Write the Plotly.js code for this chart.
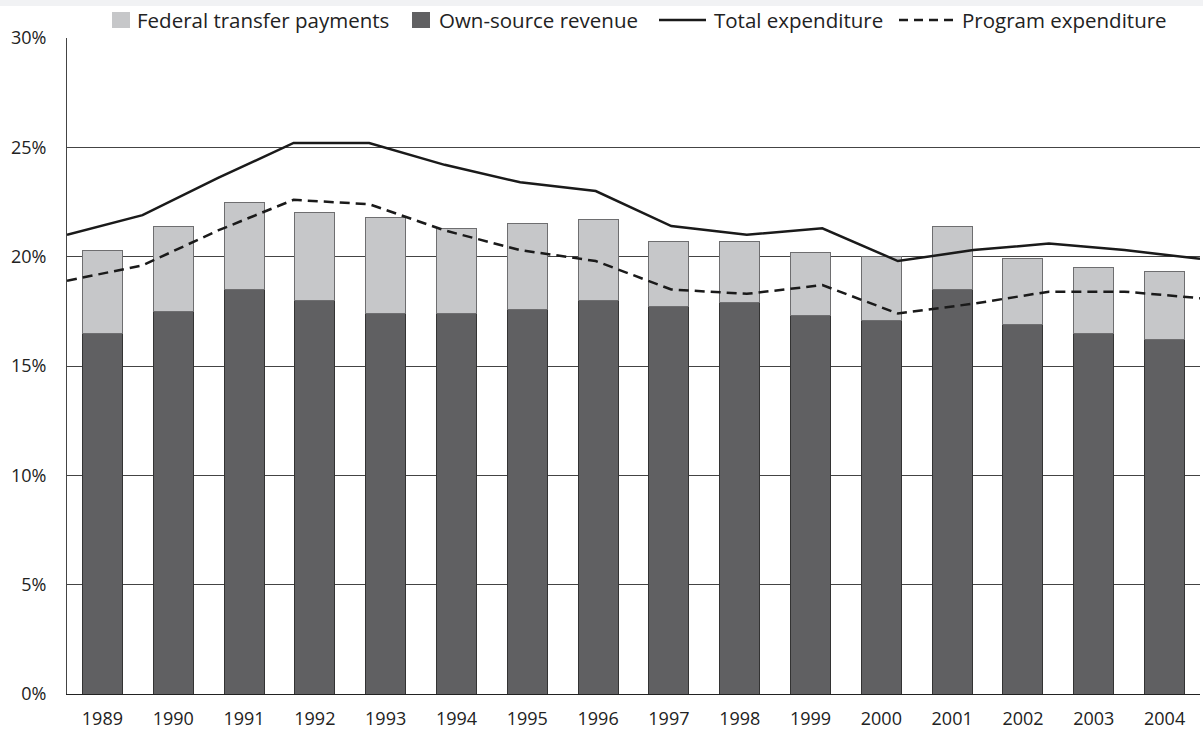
<!DOCTYPE html>
<html>
<head>
<meta charset="utf-8">
<script src="https://cdn.plot.ly/plotly-3.0.1.min.js"></script>
<style>html,body{margin:0;padding:0;background:#fff;}#chart{width:1203px;height:731px;}</style>
</head>
<body>
<div id="chart"></div>
<script>
const years = ["1989","1990","1991","1992","1993","1994","1995","1996","1997","1998","1999","2000","2001","2002","2003","2004"];
const yearNums = [1989,1990,1991,1992,1993,1994,1995,1996,1997,1998,1999,2000,2001,2002,2003,2004];
const ownSource = [16.5,17.5,18.5,18.0,17.4,17.4,17.6,18.0,17.7,17.9,17.3,17.1,18.5,16.9,16.5,16.2];
const totalRevenue = [20.3,21.4,22.5,22.0,21.8,21.3,21.5,21.7,20.7,20.7,20.2,20.0,21.4,19.9,19.5,19.3];
const federalTransfers = totalRevenue.map((t,i)=>+(t-ownSource[i]).toFixed(2));
const totalExpenditure = [21.0,21.9,23.6,25.2,25.2,24.2,23.4,23.0,21.4,21.0,21.3,19.8,20.3,20.6,20.3,19.9];
const programExpenditure = [18.9,19.6,21.2,22.6,22.4,21.2,20.3,19.8,18.5,18.3,18.7,17.4,17.85,18.4,18.4,18.1];
const yTicks = [0,5,10,15,20,25,30];
const yTickLabels = ["0%","5%","10%","15%","20%","25%","30%"];
const seriesNames = ["Federal transfer payments","Own-source revenue","Total expenditure","Program expenditure"];

const FED_COLOR = '#c6c7c9', OWN_COLOR = '#606062', LINE_COLOR = '#1a1a1a';

const traces = [
  {type:'bar', name:seriesNames[1], x:years, y:ownSource, showlegend:false,
   marker:{color:OWN_COLOR, line:{color:'#333333', width:1}}, hoverinfo:'y'},
  {type:'bar', name:seriesNames[0], x:years, y:federalTransfers, showlegend:false,
   marker:{color:FED_COLOR, line:{color:'#6e6e70', width:1}}, hoverinfo:'y'},
  {type:'scatter', mode:'lines', name:seriesNames[2], x:yearNums, y:totalExpenditure, xaxis:'x2', showlegend:false,
   line:{color:LINE_COLOR, width:2.5}, cliponaxis:false},
  {type:'scatter', mode:'lines', name:seriesNames[3], x:yearNums, y:programExpenditure, xaxis:'x2', showlegend:false,
   line:{color:LINE_COLOR, width:2.5, dash:'10px,6px'}, cliponaxis:false}
];

// Custom legend drawn in paper coordinates (plot area: x 67..1200 px, y 38..694 px)
const M = {l:67, r:3, t:38, b:37};
const PW = 1203 - M.l - M.r, PH = 731 - M.t - M.b;
const px = x => (x - M.l) / PW;
const py = y => 1 + (M.t - y) / PH;
const legY = 20;
const shapes = [
  {type:'rect', xref:'paper', yref:'paper', x0:px(0), x1:px(1203), y0:py(6), y1:py(0),
   fillcolor:'#f1f2f4', line:{width:0}, layer:'below'},
  {type:'rect', xref:'paper', yref:'paper', x0:px(112), x1:px(130), y0:py(28), y1:py(12),
   fillcolor:FED_COLOR, line:{width:0}},
  {type:'rect', xref:'paper', yref:'paper', x0:px(412), x1:px(430), y0:py(28), y1:py(12),
   fillcolor:OWN_COLOR, line:{width:0}},
  {type:'line', xref:'paper', yref:'paper', x0:px(659), x1:px(706), y0:py(legY), y1:py(legY),
   line:{color:LINE_COLOR, width:2.5}},
  {type:'line', xref:'paper', yref:'paper', x0:px(899), x1:px(954), y0:py(legY), y1:py(legY),
   line:{color:LINE_COLOR, width:2.5, dash:'9px,6px'}}
];
const legTextX = [138, 440, 715, 963];
const annotations = seriesNames.map((n,i)=>({
  text:n, xref:'paper', yref:'paper', x:px(legTextX[i]-2), y:py(legY), xanchor:'left', yanchor:'middle',
  showarrow:false, font:{size:20.5, color:'#222222'}, borderpad:0
}));

const layout = {
  width:1203, height:731,
  margin:M,
  paper_bgcolor:'#ffffff', plot_bgcolor:'#ffffff',
  font:{family:'"Open Sans", "Noto Sans", sans-serif', color:'#222222', size:18},
  barmode:'stack', bargap:0.435,
  showlegend:false,
  xaxis:{type:'category', range:[-0.5,15.5], showgrid:false, zeroline:false,
         showline:true, linecolor:'#222222', linewidth:1.2, ticks:'', ticklen:0,
         ticklabelstandoff:8,
         tickfont:{size:18, color:'#222222'}, fixedrange:true},
  xaxis2:{overlaying:'x', range:[1989,2004], visible:false, fixedrange:true},
  yaxis:{range:[0,30], tickvals:yTicks, ticktext:yTickLabels, showgrid:true,
         gridcolor:'#444444', gridwidth:1, zeroline:false, showline:true,
         linecolor:'#444444', linewidth:1, ticks:'', ticklen:0, ticklabelstandoff:16,
         tickfont:{size:18, color:'#222222'}, fixedrange:true},
  shapes:shapes,
  annotations:annotations
};

Plotly.newPlot('chart', traces, layout, {displayModeBar:false, staticPlot:true});
</script>
</body>
</html>
